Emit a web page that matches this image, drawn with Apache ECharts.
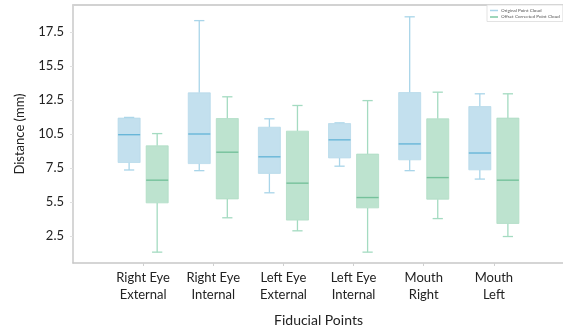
<!DOCTYPE html>
<html>
<head>
<meta charset="utf-8">
<script src="https://cdn.jsdelivr.net/npm/echarts@6/dist/echarts.min.js"></script>
<style>
html,body{margin:0;padding:0;background:#fff;}
#chart{width:563px;height:329px;}
</style>
</head>
<body>
<div id="chart"></div>
<script>
// Categories (x axis)
var categories = ['Right Eye\nExternal', 'Right Eye\nInternal', 'Left Eye\nExternal', 'Left Eye\nInternal', 'Mouth\nRight', 'Mouth\nLeft'];
// Box stats per category: [min, Q1, median, Q3, max]
var originalPC = [
  [7.35, 7.9, 9.95, 11.17, 11.22],
  [7.3, 7.82, 10.0, 13.03, 18.35],
  [5.67, 7.1, 8.32, 10.5, 11.12],
  [7.63, 8.24, 9.57, 10.77, 10.82],
  [7.3, 8.1, 9.27, 13.05, 18.63],
  [6.68, 7.36, 8.6, 12.02, 12.96]
];
var correctedPC = [
  [1.3, 4.93, 6.6, 9.13, 10.03],
  [3.83, 5.22, 8.66, 11.14, 12.74],
  [2.87, 3.66, 6.38, 10.21, 12.1],
  [1.3, 4.56, 5.32, 8.52, 12.46],
  [3.77, 5.2, 6.79, 11.12, 13.08],
  [2.45, 3.41, 6.6, 11.17, 12.96]
];
// Y tick positions and the labels printed at them
var yTickValues = [2.5, 5, 7.5, 10, 12.5, 15, 17.5];
var yTickLabels = ['2.5', '5.5', '7.5', '10.5', '12.5', '15.5', '17.5'];
var seriesNames = ['Original Point Cloud', 'Offset Corrected Point Cloud'];

var axisCats = [''].concat(categories).concat(['']);

function rows(stats) {
  return stats.map(function (s, i) { return [i + 1].concat(s); });
}

function makeRender(offsetFrac, c) {
  return function (params, api) {
    var x = api.value(0);
    var band = api.size([1, 0])[0];
    var off = band * offsetFrac;
    var half = band * 0.157;
    var cap = band * 0.073;
    var p = [1, 2, 3, 4, 5].map(function (k) { return api.coord([x, api.value(k)]); });
    var cx = p[0][0] + off;
    var ls = { stroke: c.whisker, lineWidth: 1.3 };
    return {
      type: 'group',
      children: [
        { type: 'line', shape: { x1: cx, y1: p[0][1], x2: cx, y2: p[1][1] }, style: ls },
        { type: 'line', shape: { x1: cx, y1: p[3][1], x2: cx, y2: p[4][1] }, style: ls },
        { type: 'line', shape: { x1: cx - cap, y1: p[0][1], x2: cx + cap, y2: p[0][1] }, style: ls },
        { type: 'line', shape: { x1: cx - cap, y1: p[4][1], x2: cx + cap, y2: p[4][1] }, style: ls },
        { type: 'rect', shape: { x: cx - half, y: p[3][1], width: half * 2, height: p[1][1] - p[3][1] },
          style: { fill: c.fill, stroke: c.edge, lineWidth: 0.8 } },
        { type: 'line', shape: { x1: cx - half, y1: p[2][1], x2: cx + half, y2: p[2][1] },
          style: { stroke: c.median, lineWidth: 1.4 } }
      ]
    };
  };
}

var blue = { fill: '#c3e0ee', edge: '#b6d9ea', whisker: '#a9d5e9', median: '#68b6d8' };
var green = { fill: '#bde3cf', edge: '#b0ddc5', whisker: '#a4dbc1', median: '#75c19b' };

var chart = echarts.init(document.getElementById('chart'), null, { renderer: 'canvas' });
var fontFam = 'Lato, "Open Sans", sans-serif';
chart.setOption({
  animation: false,
  backgroundColor: '#fff',
  textStyle: { fontFamily: fontFam },
  grid: { left: 73, right: -1, top: 5, bottom: 66, containLabel: false, outerBoundsMode: 'none' },
  legend: {
    orient: 'vertical', left: 487, top: 5, padding: [3, 3, 2, 3],
    borderColor: '#dcdcdc', borderWidth: 0.8, backgroundColor: '#fff',
    itemWidth: 8, itemHeight: 1.5, itemGap: 1.5,
    textStyle: { fontSize: 4.6, color: '#555', padding: [0, 0, 0, -2] },
    data: [
      { name: seriesNames[0], icon: 'rect', itemStyle: { color: blue.whisker } },
      { name: seriesNames[1], icon: 'rect', itemStyle: { color: '#7cc9a3' } }
    ]
  },
  xAxis: [{
    type: 'category', data: axisCats, boundaryGap: false,
    name: 'Fiducial Points', nameLocation: 'middle', nameGap: 50,
    nameTextStyle: { fontSize: 14, color: '#222', fontFamily: fontFam },
    axisLine: { lineStyle: { color: '#c8c8c8', width: 1.5 } },
    axisTick: { show: true, length: 3, lineStyle: { color: '#d0d0d0' },
      interval: function (i) { return i > 0 && i < axisCats.length - 1; } },
    axisLabel: { interval: 0, fontSize: 13, color: '#222', lineHeight: 17, margin: 6, fontFamily: fontFam },
    splitLine: { show: false }
  }, {
    type: 'category', data: axisCats, boundaryGap: false, position: 'top',
    axisLine: { show: true, lineStyle: { color: '#d2d2d2', width: 1.8 } },
    axisTick: { show: false }, axisLabel: { show: false }, splitLine: { show: false }
  }],
  yAxis: {
    type: 'value', min: 0.5, max: 19.5,
    name: 'Distance (mm)', nameLocation: 'middle', nameGap: 47, nameRotate: 90,
    nameTextStyle: { fontSize: 13, color: '#222', fontFamily: fontFam },
    axisLine: { show: true, lineStyle: { color: '#c8c8c8', width: 1.5 } },
    axisTick: { show: true, length: 3, customValues: yTickValues, lineStyle: { color: '#e0e0e0' } },
    axisLabel: {
      customValues: yTickValues, fontSize: 13, color: '#222', margin: 9, fontFamily: fontFam,
      formatter: function (v) { var i = yTickValues.indexOf(v); return i >= 0 ? yTickLabels[i] : ''; }
    },
    splitLine: { show: false }
  },
  series: [
    { name: seriesNames[0], type: 'custom', renderItem: makeRender(-0.2, blue),
      itemStyle: { color: blue.whisker }, encode: { x: 0, y: [1, 2, 3, 4, 5] }, data: rows(originalPC) },
    { name: seriesNames[1], type: 'custom', renderItem: makeRender(0.2, green),
      itemStyle: { color: '#7cc9a3' }, encode: { x: 0, y: [1, 2, 3, 4, 5] }, data: rows(correctedPC) }
  ]
});
</script>
</body>
</html>
